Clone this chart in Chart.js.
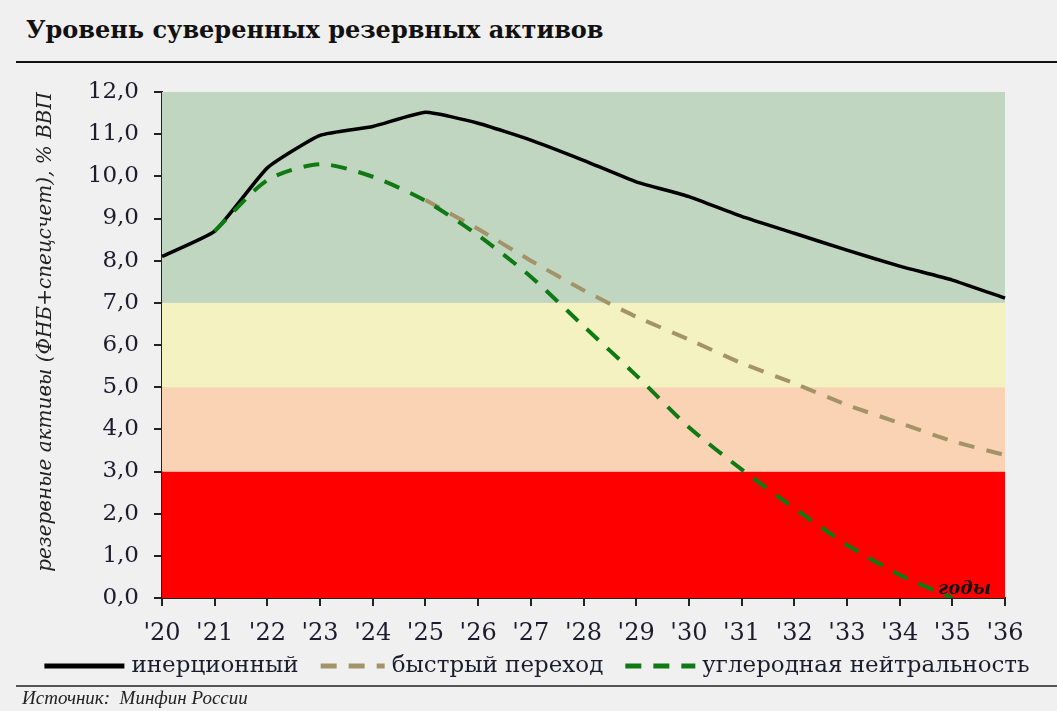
<!DOCTYPE html>
<html>
<head>
<meta charset="utf-8">
<script src="https://cdn.jsdelivr.net/npm/chart.js@4/dist/chart.umd.min.js"></script>
<style>
  html, body { margin:0; padding:0; background:#f0f0f0; }
  #wrap { position:relative; width:1057px; height:711px; background:#f0f0f0; overflow:hidden; }
  #title { position:absolute; left:26px; top:15px; font-family:"DejaVu Serif", serif; font-weight:bold; font-size:24px; color:#111; white-space:nowrap; }
  #rule1 { position:absolute; left:16px; top:61px; width:1041px; height:2px; background:#111; }
  #rule2 { position:absolute; left:16px; top:685px; width:1041px; height:2px; background:#555; }
  #source { position:absolute; left:22px; top:687px; font-family:"Liberation Serif", serif; font-style:italic; font-size:19px; color:#222; white-space:nowrap; }
  #cv { position:absolute; left:0; top:0; }
</style>
</head>
<body>
<div id="wrap">
  <div id="title">Уровень суверенных резервных активов</div>
  <div id="rule1"></div>
  <canvas id="cv" width="1057" height="711"></canvas>
  <div id="rule2"></div>
  <div id="source">Источник:&nbsp; Минфин России</div>
</div>
<script>
const years = ['2020','2021','2022','2023','2024','2025','2026','2027','2028','2029','2030','2031','2032','2033','2034','2035','2036'];
const yearTicks = ["'20","'21","'22","'23","'24","'25","'26","'27","'28","'29","'30","'31","'32","'33","'34","'35","'36"];
const inertial = [8.1, 8.7, 10.2, 10.97, 11.18, 11.52, 11.26, 10.86, 10.38, 9.87, 9.52, 9.05, 8.65, 8.25, 7.87, 7.54, 7.11];
const fastTransition = [null, null, null, null, null, 9.44, 8.75, 8.0, 7.3, 6.67, 6.13, 5.57, 5.09, 4.58, 4.15, 3.72, 3.39];
const carbonNeutral = [null, 8.7, 9.91, 10.29, 9.99, 9.42, 8.6, 7.62, 6.45, 5.28, 4.05, 3.05, 2.13, 1.26, 0.55, 0.0, null];
const seriesNames = ['инерционный', 'быстрый переход', 'углеродная нейтральность'];
const bandFrom = [0, 3, 5, 7];
const bandTo = [3, 5, 7, 12];
const bandColors = ['#ff0000', '#f9d3b3', '#f4f2c0', '#c0d6c0'];
const yTitle = 'резервные активы (ФНБ+спецсчет), % ВВП';
const xTitle = 'годы';

const serif = '"DejaVu Serif", serif';
const textColor = '#1c1c2c';

const bandsPlugin = {
  id: 'bands',
  beforeDatasetsDraw(chart) {
    const {ctx, chartArea, scales} = chart;
    ctx.save();
    for (let i = 0; i < bandFrom.length; i++) {
      const y1 = scales.y.getPixelForValue(bandTo[i]);
      const y2 = scales.y.getPixelForValue(bandFrom[i]);
      ctx.fillStyle = bandColors[i];
      ctx.fillRect(chartArea.left, y1, chartArea.right - chartArea.left, y2 - y1);
    }
    ctx.restore();
  },
  afterDatasetsDraw(chart) {
    const {ctx, chartArea} = chart;
    ctx.save();
    ctx.font = 'italic bold 18px ' + serif;
    ctx.fillStyle = '#111';
    ctx.textAlign = 'right';
    ctx.textBaseline = 'alphabetic';
    ctx.fillText(xTitle, chartArea.right - 14, chartArea.bottom - 4);
    ctx.restore();
  }
};

// custom legend drawn from the datasets (line samples keep their dash style)
const legendPlugin = {
  id: 'customLegend',
  afterDraw(chart) {
    const {ctx} = chart;
    const ds = chart.data.datasets;
    const sampleW = [80, 64, 70];
    const gapText = 7, gapItem = 22;
    const cy = 666;
    ctx.save();
    ctx.font = '23px ' + serif;
    let total = 0;
    ds.forEach((d, i) => { total += sampleW[i] + gapText + ctx.measureText(d.label).width; if (i < ds.length - 1) total += gapItem; });
    let x = 537 - total / 2;
    ds.forEach((d, i) => {
      ctx.save();
      ctx.strokeStyle = d.borderColor;
      ctx.lineWidth = 5;
      ctx.setLineDash(d.borderDash || []);
      ctx.beginPath();
      ctx.moveTo(x, cy);
      ctx.lineTo(x + sampleW[i], cy);
      ctx.stroke();
      ctx.restore();
      x += sampleW[i] + gapText;
      ctx.fillStyle = textColor;
      ctx.textAlign = 'left';
      ctx.textBaseline = 'middle';
      ctx.fillText(d.label, x, cy);
      x += ctx.measureText(d.label).width + gapItem;
    });
    ctx.restore();
  }
};

new Chart(document.getElementById('cv'), {
  type: 'line',
  data: {
    labels: years,
    datasets: [
      { label: seriesNames[0], data: inertial, borderColor: '#000000', backgroundColor: '#000000', borderWidth: 3.5, pointRadius: 0, tension: 0.15, order: 2 },
      { label: seriesNames[1], data: fastTransition, borderColor: '#a39468', backgroundColor: '#a39468', borderWidth: 4, borderDash: [16, 12], pointRadius: 0, tension: 0.2, order: 1 },
      { label: seriesNames[2], data: carbonNeutral, borderColor: '#0f7a14', backgroundColor: '#0f7a14', borderWidth: 4, borderDash: [16, 12], pointRadius: 0, tension: 0.25, order: 0 }
    ]
  },
  options: {
    responsive: false,
    animation: false,
    devicePixelRatio: 1,
    layout: { padding: { top: 92, right: 52, bottom: 63, left: 0 } },
    plugins: {
      tooltip: { enabled: false },
      legend: { display: false }
    },
    scales: {
      x: {
        type: 'category',
        offset: false,
        afterFit(scale) { scale.height = 50; },
        grid: { display: true, drawOnChartArea: false, drawTicks: true, tickLength: 8, color: '#222', lineWidth: 2 },
        border: { display: true, color: '#222', width: 2 },
        ticks: {
          autoSkip: false, maxRotation: 0, padding: 13,
          font: { family: serif, size: 24 }, color: textColor,
          callback: (v, i) => yearTicks[i]
        }
      },
      y: {
        min: 0, max: 12,
        afterFit(scale) { scale.width = 162; },
        grid: { display: true, drawOnChartArea: false, drawTicks: true, tickLength: 8, color: '#222', lineWidth: 2 },
        border: { display: true, color: '#222', width: 2 },
        ticks: {
          stepSize: 1, padding: 15,
          font: { family: serif, size: 23 }, color: textColor,
          callback: (v) => v.toFixed(1).replace('.', ',')
        },
        title: {
          display: true, text: yTitle, align: 'end',
          font: { family: serif, size: 20, style: 'italic' }, color: '#222',
          padding: { top: 34, bottom: 0 }
        }
      }
    }
  },
  plugins: [bandsPlugin, legendPlugin]
});
</script>
</body>
</html>
